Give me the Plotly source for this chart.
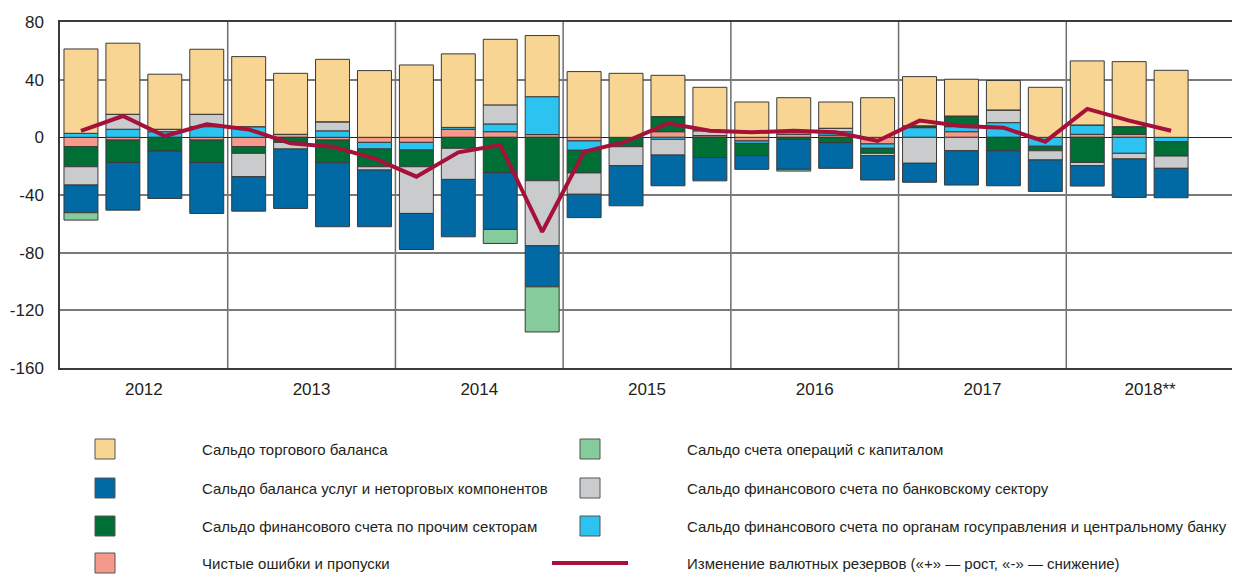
import plotly.graph_objects as go

years = ['2012', '2013', '2014', '2015', '2016', '2017', '2018**']
quarters = list(range(27))

trade    = [58.5, 49.3, 38.2, 45.1, 48.6, 42.3, 43.3, 46.3, 50.2, 51.0, 45.5, 42.4, 45.6, 44.4,
            28.6, 30.1, 24.5, 23.6, 18.2, 27.5, 34.1, 25.5, 20.4, 34.7, 44.4, 45.1, 46.5]
errors   = [-6.5, -1.9, 0, -1.9, -6.5, 2.1, -1.9, -3.5, -3.5, 5.6, 3.9, 1.9, -2.5, 0,
            3.9, 1.2, -2.5, 2.1, 1.5, -4.6, 0, 3.9, 0, 0, 2.1, 2.1, 0]
gov      = [2.8, 5.6, 3.9, 7.4, 7.4, 0, 4.5, -4.6, -5.3, 1.3, 5.4, 26.3, -6.5, 0,
            -1.4, 0, -1.7, 1.8, 2.4, -3.0, 6.7, 3.5, 10.2, -6.2, 6.5, -11.1, -3.0]
other    = [-13.9, -15.5, -9.5, -15.5, -4.6, -3.5, -15.7, -12.3, -11.6, -7.6, -24.5, -30.1, -15.7, -6.5,
            10.5, -14.0, -8.5, -1.4, -3.7, -3.5, 1.3, 7.4, -9.3, -3.1, -17.4, 5.3, -10.0]
bank     = [-12.7, 10.4, 1.7, 8.6, -16.2, -4.6, 6.3, -2.3, -32.4, -21.6, 13.2, -45.1, -14.8, -13.2,
            -10.9, 3.4, 0, 0, 2.4, -1.6, -18.0, -9.3, 8.8, -6.4, -2.3, -3.9, -8.5]
services = [-19.2, -33.1, -32.9, -35.4, -23.9, -41.2, -44.4, -39.3, -25.0, -39.8, -39.4, -28.5, -16.2, -27.8,
            -21.3, -16.2, -9.5, -20.8, -17.8, -16.9, -13.2, -23.8, -24.3, -21.8, -14.1, -26.7, -20.4]
capital  = [-5.1, 0, 0, 0, 0, 0, 0, 0, 0, 0, -9.7, -31.3, 0, 0,
            0, 0, 0, -1.2, 0, 0, 0, 0, 0, 0, 0, 0, 0]
reserves = [4.4, 14.8, 0.9, 9.0, 5.5, -4.2, -6.5, -14.6, -27.3, -10.4, -5.3, -65.5, -10.0, -3.0,
            9.7, 4.6, 3.5, 4.6, 3.5, -2.5, 11.6, 7.9, 6.7, -3.0, 19.7, 11.6, 4.6]

yticks = [80, 40, 0, -40, -80, -120, -160]

C_TRADE = '#F8D592'
C_SERV = '#0169A4'
C_OTHER = '#006F36'
C_ERR = '#F59A8A'
C_CAP = '#85CB9C'
C_BANK = '#C9CBCD'
C_GOV = '#2DC3F0'
C_RES = '#A6113A'

FONT = 'Liberation Sans Narrow, Arial Narrow, Liberation Sans, Arial, sans-serif'
TXT = '#231f20'

fig = go.Figure()
series = [
    ('Чистые ошибки и пропуски', errors, C_ERR),
    ('Сальдо финансового счета по органам госуправления и центральному банку', gov, C_GOV),
    ('Сальдо финансового счета по прочим секторам', other, C_OTHER),
    ('Сальдо финансового счета по банковскому сектору', bank, C_BANK),
    ('Сальдо баланса услуг и неторговых компонентов', services, C_SERV),
    ('Сальдо счета операций с капиталом', capital, C_CAP),
    ('Сальдо торгового баланса', trade, C_TRADE),
]
for name, vals, col in series:
    fig.add_trace(go.Bar(x=quarters, y=vals, name=name, width=0.81,
                         marker=dict(color=col, line=dict(color='#3a3a3a', width=1)),
                         showlegend=False))
fig.add_trace(go.Scatter(x=quarters, y=reserves, mode='lines',
                         line=dict(color=C_RES, width=4), showlegend=False))

# page coordinates (the page body has an 8px margin)
OFF = 8
FIG_W, FIG_H = 1240 - OFF, 574 - OFF
L, R, T, B = 60, 1234, 22, 368
W, H = R - L, B - T

def px(x):
    return (x - L) / W

def py(y):
    return (B - y) / H

shapes = []
for k in range(1, 7):
    shapes.append(dict(type='line', xref='x', yref='paper', x0=4 * k - 0.5, x1=4 * k - 0.5,
                       y0=0, y1=1, line=dict(color='#6e6e6e', width=1.5), layer='below'))

annotations = []
legend_items = [
    (0, 0, 'Сальдо торгового баланса', C_TRADE, 'box'),
    (0, 1, 'Сальдо баланса услуг и неторговых компонентов', C_SERV, 'box'),
    (0, 2, 'Сальдо финансового счета по прочим секторам', C_OTHER, 'box'),
    (0, 3, 'Чистые ошибки и пропуски', C_ERR, 'box'),
    (1, 0, 'Сальдо счета операций с капиталом', C_CAP, 'box'),
    (1, 1, 'Сальдо финансового счета по банковскому сектору', C_BANK, 'box'),
    (1, 2, 'Сальдо финансового счета по органам госуправления и центральному банку', C_GOV, 'box'),
    (1, 3, 'Изменение валютных резервов («+» — рост, «-» — снижение)', C_RES, 'line'),
]
row_y = [449, 488, 526, 563]
box_x = [95, 580]
text_x = [200, 685]
for c, r, label, col, kind in legend_items:
    yc = row_y[r]
    if kind == 'box':
        shapes.append(dict(type='rect', xref='paper', yref='paper',
                           x0=px(box_x[c]), x1=px(box_x[c] + 20), y0=py(yc + 10), y1=py(yc - 10),
                           fillcolor=col, line=dict(color='#555555', width=1)))
    else:
        shapes.append(dict(type='line', xref='paper', yref='paper',
                           x0=px(552), x1=px(628), y0=py(yc), y1=py(yc),
                           line=dict(color=col, width=4)))
    annotations.append(dict(xref='paper', yref='paper', x=px(text_x[c]), y=py(yc),
                            text=label, showarrow=False, xanchor='left', yanchor='middle',
                            font=dict(family=FONT, size=15, color=TXT)))

fig.update_layout(
    width=FIG_W, height=FIG_H,
    margin=dict(l=L - OFF, r=1240 - R, t=T - OFF, b=574 - B, autoexpand=False),
    paper_bgcolor='white', plot_bgcolor='white',
    barmode='relative', bargap=0.19,
    font=dict(family=FONT, size=17, color=TXT),
    xaxis=dict(range=[-0.5, 27.5], tickmode='array',
               tickvals=[1.5 + 4 * i for i in range(7)], ticktext=years,
               ticks='', showgrid=False, zeroline=False,
               showline=True, linecolor='#3a3a3a', linewidth=1.5, mirror=True,
               tickfont=dict(family=FONT, size=17, color=TXT), ticklabelstandoff=5),
    yaxis=dict(range=[-160, 80], tickmode='array', tickvals=yticks,
               ticktext=[str(v) for v in yticks],
               showgrid=True, gridcolor='#7a7a7a', gridwidth=1.5,
               zeroline=True, zerolinecolor='#222222', zerolinewidth=1.2,
               showline=True, linecolor='#3a3a3a', linewidth=1.5, mirror=True,
               ticks='', tickfont=dict(family=FONT, size=17, color=TXT),
               ticklabelstandoff=11),
    shapes=shapes, annotations=annotations,
)

fig.write_html('out.html')
